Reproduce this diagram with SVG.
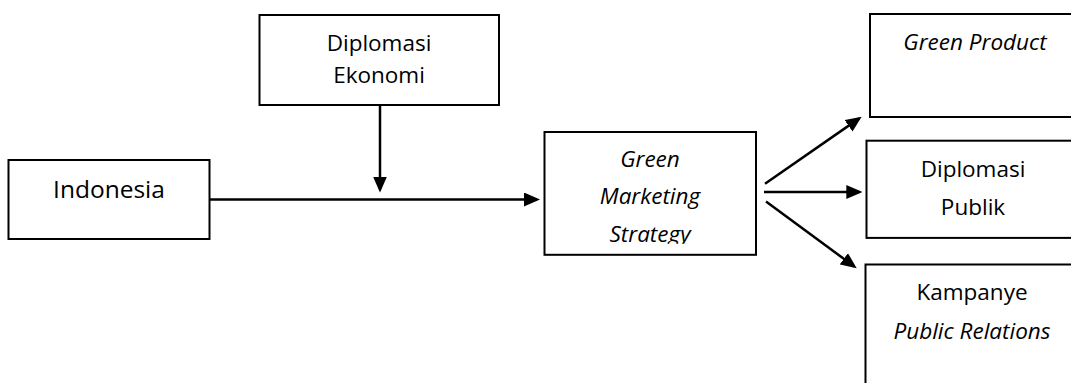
<svg xmlns="http://www.w3.org/2000/svg" width="1071" height="383" viewBox="0 0 1071 383">
<style>
.box{fill:#fff;stroke:#000;stroke-width:2}
.t{font-family:"Open Sans","Liberation Sans",sans-serif;font-size:22.5px;fill:#000;text-anchor:middle}
.i{font-style:italic}
.c{stroke:#000;stroke-width:2.5;fill:none;marker-end:url(#ah)}
</style>
<defs>
<marker id="ah" markerUnits="userSpaceOnUse" markerWidth="16" markerHeight="14" refX="13" refY="7" orient="auto">
<path d="M0,0 L16,7 L0,14 z" fill="#000"/>
</marker>
<clipPath id="gmsclip"><rect x="544" y="132" width="212" height="111.7"/></clipPath>
</defs>
<g id="indonesia">
<rect class="box" x="8.5" y="160" width="201" height="79"/>
<text class="t" x="109" y="198.3" style="font-size:24.5px">Indonesia</text>
</g>
<g id="diplomasi-ekonomi">
<rect class="box" x="259.5" y="15" width="239.5" height="90"/>
<text class="t" x="379" y="50.8">Diplomasi</text>
<text class="t" x="379" y="83.2">Ekonomi</text>
</g>
<g id="green-marketing-strategy">
<rect class="box" x="544.5" y="132" width="211.5" height="122.8"/>
<g clip-path="url(#gmsclip)">
<text class="t i" x="650" y="166.8">Green</text>
<text class="t i" x="650" y="204">Marketing</text>
<text class="t i" x="650" y="241.8">Strategy</text>
</g>
</g>
<g id="green-product">
<rect class="box" x="870" y="14" width="210" height="103"/>
<text class="t i" x="975" y="50.3">Green Product</text>
</g>
<g id="diplomasi-publik">
<rect class="box" x="866.5" y="140.7" width="210" height="97.2"/>
<text class="t" x="973" y="177">Diplomasi</text>
<text class="t" x="973" y="214.7">Publik</text>
</g>
<g id="kampanye-pr">
<rect class="box" x="865.5" y="264.5" width="210" height="130"/>
<text class="t" x="972" y="299.8">Kampanye</text>
<text class="t i" x="972" y="338.5">Public Relations</text>
</g>
<g id="connectors">
<line class="c" x1="380" y1="105.4" x2="380" y2="189.5"/>
<line class="c" x1="209.5" y1="199.5" x2="537" y2="199.5"/>
<line class="c" x1="765" y1="183.7" x2="859.2" y2="118.4"/>
<line class="c" x1="764" y1="192" x2="859.3" y2="192"/>
<line class="c" x1="766" y1="201.6" x2="854.3" y2="266.5"/>
</g>
</svg>
